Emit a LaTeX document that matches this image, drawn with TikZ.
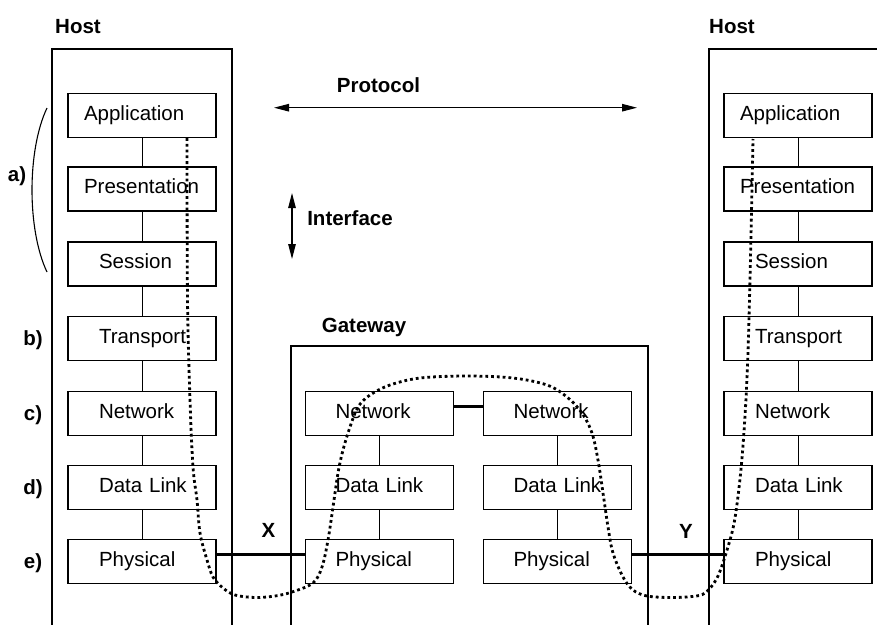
\documentclass[tikz,border=0pt]{standalone}
\usepackage{fontspec}
\setmainfont{Liberation Sans}
\usetikzlibrary{arrows.meta}
\begin{document}
\begin{tikzpicture}[x=1pt,y=-1pt,
  layer/.style={draw, line width=1.1pt, fill=white, minimum width=148pt, minimum height=44pt,
    inner sep=0pt, text width=116pt, align=left, text height=14pt, text depth=5pt,
    font=\fontsize{20.5}{24}\selectfont},
  lbl/.style={font=\fontsize{20.5}{24}\selectfont\bfseries, anchor=base, inner sep=0pt},
  frame/.style={draw, line width=1.1pt},
  vlink/.style={line width=0.9pt},
  link/.style={line width=3pt},
  route/.style={line width=2.8pt, dash pattern=on 2.8pt off 3pt},
  dbl/.style={line width=1.1pt, {Triangle[length=15pt,width=7.5pt]}-{Triangle[length=15pt,width=7.5pt]}}
]
\clip (0,0) rectangle (877,624);
% frames
\draw[frame] (52,640) -- (52,49) -- (232,49) -- (232,640);
\draw[frame] (291,640) -- (291,346) -- (648,346) -- (648,640);
\draw[frame] (709,640) -- (709,49) -- (900,49);
% titles
\node[lbl] (hostL) at (78,33) {Host};
\node[lbl] (hostR) at (732,33.5) {Host};
\node[lbl] (gw) at (364,332) {Gateway};
\node[lbl] (proto) at (378.5,92.7) {Protocol};
\node[lbl] (iface) at (350,225.7) {Interface};
\node[lbl] (xl) at (268.5,537) {X};
\node[lbl] (yl) at (686,538) {Y};
% row labels
\node[lbl] (la) at (17,181) {a)};
\node[lbl] (lb) at (33,345.5) {b)};
\node[lbl] (lc) at (33,420.5) {c)};
\node[lbl] (ld) at (33,494.5) {d)};
\node[lbl] (le) at (33,568.5) {e)};
\draw[line width=1.1pt] (47,108) .. controls (27,150) and (27,230) .. (47,272);
% host stacks
\foreach \n/\t/\o/\y in {A/Application/0/115.5, P/Presentation/0/189, S/Session/15/264,
  T/Transport/15/338.5, N/Network/15/413.5, D/Data Link/15/487.5, Ph/Physical/15/561.5}{
  \node[layer] (l\n) at (142,\y) {\hspace*{\o pt}\t};
  \node[layer] (r\n) at (798,\y) {\hspace*{\o pt}\t};
}
\foreach \a/\b in {A/P,P/S,S/T,T/N,N/D,D/Ph}{
  \draw[vlink] (l\a) -- (l\b);
  \draw[vlink] (r\a) -- (r\b);
}
% gateway stacks
\foreach \n/\t/\y in {N/Network/413.5, D/Data Link/487.5, Ph/Physical/561.5}{
  \node[layer] (g\n) at (379.5,\y) {\hspace*{14pt}\t};
  \node[layer] (h\n) at (557.5,\y) {\hspace*{14pt}\t};
}
\foreach \a/\b in {N/D,D/Ph}{
  \draw[vlink] (g\a) -- (g\b);
  \draw[vlink] (h\a) -- (h\b);
}
% links
\draw[link] ([yshift=7.5pt]gN.east) -- ([yshift=7.5pt]hN.west);
\draw[link] ([yshift=7.5pt]lPh.east) -- ([yshift=7.5pt]gPh.west);
\draw[link] ([yshift=7.5pt]hPh.east) -- ([yshift=7.5pt]rPh.west);
% protocol / interface arrows
\coordinate (p1) at (274,107.7);
\coordinate (p2) at (637,107.7);
\draw[dbl] (p1) -- (p2);
\coordinate (i1) at (292,193);
\coordinate (i2) at (292,259);
\draw[dbl] (i1) -- (i2);
% route
\draw[route] plot[smooth, tension=0.55] coordinates {
 (187,138) (187.5,300) (190,400) (193,467) (197,500) (200,533) (207,560) (213,577)
 (223,588) (235,595) (255,597.5) (275,596) (292,592) (313,583) (322,567) (328,540)
 (333,507) (338,473) (343,450) (350,427) (358,407) (370,395) (390,385) (420,378)
 (467,376) (513,378) (547,385) (567,397) (582,413) (592,433) (598,460) (603,493)
 (608,527) (613,553) (623,577) (633,590) (647,596) (670,597.5) (692,596.5) (705,593)
 (717,578) (727,550) (735,518) (742,458) (747,378) (750,279) (753,139)};
\end{tikzpicture}
\end{document}
